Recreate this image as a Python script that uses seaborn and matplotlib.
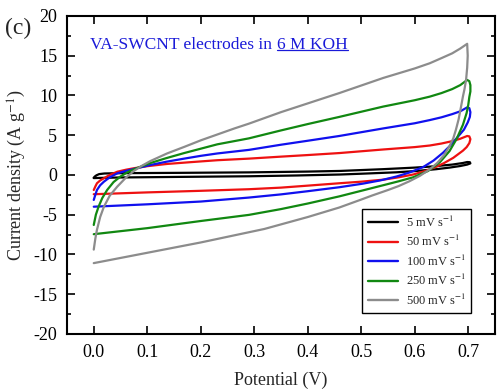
import numpy as np
import pandas as pd
import seaborn as sns
import matplotlib.pyplot as plt
from matplotlib.lines import Line2D
from matplotlib.ticker import MultipleLocator

# CV loops: forward sweep 0 -> 0.7 V, then back to 0 V
v_5 = [0.000, 0.002, 0.005, 0.010, 0.020, 0.050, 0.160, 0.290, 0.400, 0.460, 0.540, 0.600, 0.630, 0.670, 0.690, 0.698,
       0.703, 0.704, 0.698, 0.685, 0.665, 0.640, 0.600, 0.566, 0.500, 0.460, 0.380, 0.290, 0.160, 0.050, 0.010, 0.000]
i_5 = [-0.35, -0.20, -0.05, 0.10, 0.18, 0.22, 0.26, 0.32, 0.42, 0.50, 0.72, 0.92, 1.05, 1.30, 1.50, 1.62,
       1.60, 1.45, 1.30, 1.12, 0.92, 0.72, 0.48, 0.33, 0.15, 0.05, -0.07, -0.17, -0.25, -0.32, -0.38, -0.40]

v_50 = [0.000, 0.003, 0.006, 0.012, 0.019, 0.030, 0.044, 0.060, 0.075, 0.100, 0.137, 0.180, 0.231, 0.290,
        0.350, 0.400, 0.459, 0.541, 0.600, 0.628, 0.650, 0.670, 0.685, 0.698,
        0.702, 0.704, 0.702, 0.697, 0.690, 0.672, 0.655, 0.641, 0.620, 0.597, 0.570, 0.541, 0.500,
        0.459, 0.400, 0.350, 0.290, 0.200, 0.100, 0.000]
i_50 = [-1.90, -1.45, -1.05, -0.70, -0.42, 0.00, 0.40, 0.65, 0.84, 1.10, 1.38, 1.60, 1.85, 2.05,
        2.30, 2.50, 2.75, 3.20, 3.50, 3.70, 3.95, 4.25, 4.55, 4.90,
        4.85, 4.50, 4.00, 3.50, 3.05, 2.15, 1.50, 1.05, 0.50, 0.05, -0.30, -0.60, -0.85,
        -1.05, -1.35, -1.60, -1.80, -2.00, -2.20, -2.43]

v_100 = [0.000, 0.003, 0.006, 0.012, 0.019, 0.030, 0.044, 0.060, 0.075, 0.106, 0.135, 0.169, 0.200, 0.231,
         0.290, 0.350, 0.400, 0.459, 0.541, 0.600, 0.628, 0.650, 0.670, 0.685, 0.698,
         0.702, 0.704, 0.703, 0.699, 0.692, 0.678, 0.665, 0.653, 0.635, 0.616, 0.590, 0.566, 0.535,
         0.503, 0.459, 0.400, 0.350, 0.290, 0.200, 0.100, 0.000]
i_100 = [-3.15, -2.50, -1.90, -1.30, -0.85, -0.30, 0.20, 0.50, 0.75, 1.25, 1.65, 2.05, 2.40, 2.70,
         3.15, 3.80, 4.30, 4.90, 5.85, 6.50, 6.90, 7.25, 7.65, 8.00, 8.50,
         8.40, 7.90, 7.30, 6.60, 5.70, 4.60, 3.60, 2.80, 1.80, 1.00, 0.30, -0.20, -0.70,
         -1.10, -1.55, -2.05, -2.45, -2.85, -3.35, -3.70, -4.00]

v_250 = [0.000, 0.004, 0.009, 0.016, 0.025, 0.037, 0.050, 0.062, 0.075, 0.090, 0.106, 0.135, 0.169, 0.200,
         0.231, 0.290, 0.350, 0.400, 0.459, 0.541, 0.600, 0.628, 0.650, 0.670, 0.685, 0.698,
         0.702, 0.704, 0.704, 0.702, 0.700, 0.697, 0.690, 0.678, 0.665, 0.647, 0.625, 0.597, 0.570,
         0.541, 0.500, 0.459, 0.400, 0.350, 0.290, 0.200, 0.100, 0.000]
i_250 = [-6.30, -5.00, -4.00, -2.90, -1.90, -0.90, -0.20, 0.30, 0.70, 1.10, 1.50, 2.10, 2.75, 3.30,
         3.85, 4.60, 5.60, 6.40, 7.30, 8.60, 9.40, 9.85, 10.30, 10.80, 11.30, 11.95,
         11.80, 11.30, 10.50, 9.80, 8.80, 7.80, 6.30, 4.50, 3.00, 1.60, 0.50, -0.30, -0.80,
         -1.30, -2.00, -2.70, -3.60, -4.30, -5.03, -5.80, -6.70, -7.46]

v_500 = [0.000, 0.003, 0.006, 0.012, 0.019, 0.030, 0.044, 0.060, 0.075, 0.090, 0.106, 0.137, 0.170, 0.200,
         0.263, 0.290, 0.350, 0.400, 0.459, 0.541, 0.600, 0.628, 0.650, 0.670, 0.685, 0.698,
         0.699, 0.698, 0.696, 0.693, 0.690, 0.686, 0.682, 0.677, 0.672, 0.664, 0.655, 0.642, 0.628,
         0.610, 0.590, 0.570, 0.550, 0.520, 0.500, 0.459, 0.400, 0.319, 0.200, 0.100, 0.000]
i_500 = [-9.40, -8.00, -6.90, -5.30, -4.00, -2.60, -1.47, -0.35, 0.50, 1.15, 1.75, 2.70, 3.55, 4.35,
         5.85, 6.45, 7.90, 9.00, 10.30, 12.20, 13.40, 14.05, 14.70, 15.30, 15.90, 16.50,
         15.00, 13.50, 12.00, 10.80, 9.85, 8.40, 7.00, 5.70, 4.60, 3.50, 2.50, 1.50, 0.70,
         -0.10, -0.80, -1.40, -1.90, -2.60, -3.10, -4.10, -5.30, -6.80, -8.50, -9.80, -11.10]

rates = ["5", "50", "100", "250", "500"]
colors = ["black", "#ee1111", "#1010ee", "#118811", "#8c8c8c"]

curves = {"5": (v_5, i_5), "50": (v_50, i_50), "100": (v_100, i_100),
          "250": (v_250, i_250), "500": (v_500, i_500)}

frames = []
for r in rates:
    v, i = curves[r]
    frames.append(pd.DataFrame({"V": v, "I": i, "rate": r, "step": np.arange(len(v))}))
df = pd.concat(frames, ignore_index=True)

sns.set_style("ticks")
plt.rcParams["font.family"] = ["Liberation Serif", "DejaVu Serif"]
plt.rcParams["mathtext.fontset"] = "stix"
plt.rcParams["axes.unicode_minus"] = False

fig, ax = plt.subplots(figsize=(5, 3.9), dpi=100)
fig.subplots_adjust(left=0.134, right=0.99, top=0.959, bottom=0.144)

sns.lineplot(ax=ax, data=df, x="V", y="I", hue="rate", hue_order=rates,
             palette=colors, sort=False, estimator=None, lw=1.6)

ax.set_xlim(-0.05, 0.75)
ax.set_ylim(-20, 20)
ax.set_xticks(np.arange(0, 0.71, 0.1))
ax.set_xticklabels([f"{x:.1f}" for x in np.arange(0, 0.71, 0.1)])
ax.yaxis.set_major_locator(MultipleLocator(5))
ax.yaxis.set_minor_locator(MultipleLocator(2.5))
ax.tick_params(which="both", direction="in", top=True, right=True, width=1.2,
               labelsize=13, colors="black")
ax.tick_params(which="major", length=6, pad=7)
ax.tick_params(which="minor", length=3)
for s in ax.spines.values():
    s.set_linewidth(1.5)
    s.set_color("black")

ax.set_xlabel("Potential (V)", fontsize=13, labelpad=8)
ax.set_ylabel(r"Current density (A g$^{-1}$)", fontsize=13, labelpad=4)

handles, _ = ax.get_legend_handles_labels()
labels = [f"{r} mV s$^{{-1}}$" for r in rates]
leg = ax.legend(handles, labels, loc="lower right", bbox_to_anchor=(0.945, 0.065),
                borderaxespad=0, fontsize=9, frameon=True, fancybox=False,
                edgecolor="black", framealpha=1, labelspacing=0.35,
                handlelength=2.4, handletextpad=0.6, borderpad=0.45)
leg.get_frame().set_linewidth(1.0)
for h in leg.get_lines():
    h.set_linewidth(1.7)

fig.text(0.01, 0.928, "(c)", fontsize=17, va="center", ha="left")

t1 = ax.text(0.054, 0.909, "VA-SWCNT electrodes in", transform=ax.transAxes,
             fontsize=12.5, color="#1a1ad8", va="center", ha="left")
t2 = ax.annotate("6 M KOH", xy=(1, 0), xycoords=t1, xytext=(3.5, 0),
                 textcoords="offset points", fontsize=12.5, color="#1a1ad8",
                 va="bottom", ha="left")
fig.canvas.draw()
bb = t2.get_window_extent()
W, H = fig.get_size_inches() * fig.dpi
y_u = (bb.y0 + 2.5) / H
fig.add_artist(Line2D([bb.x0 / W, bb.x1 / W], [y_u, y_u], color="#1a1ad8", lw=0.9))

fig.savefig("out.png", dpi=100)
